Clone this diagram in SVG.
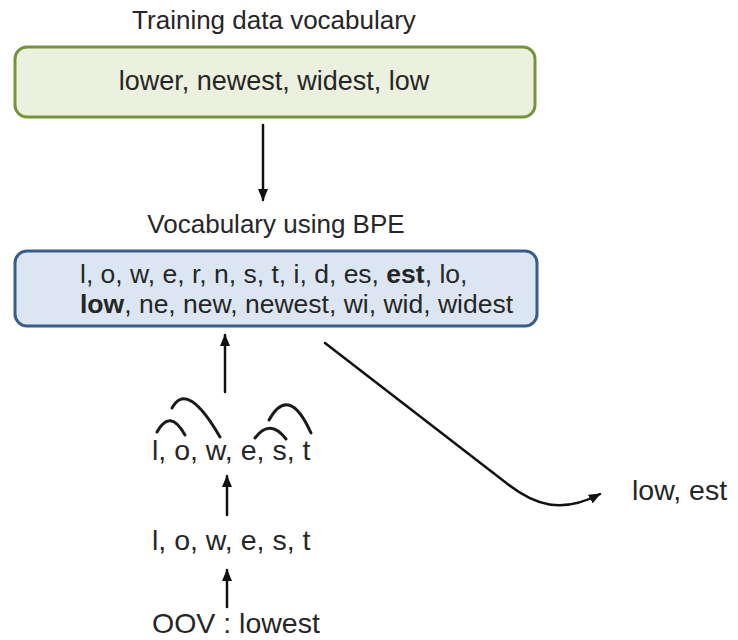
<svg xmlns="http://www.w3.org/2000/svg" width="738" height="640" viewBox="0 0 738 640">
<style>
text{font-family:"Liberation Sans",Arial,sans-serif;fill:#262626}
.t{font-size:26px}
.m{font-size:27px}
.v{font-size:26.5px}
.l{font-size:28.5px}
.b{font-weight:bold}
.c{fill:none;stroke:#111;stroke-width:2.5;stroke-linecap:round}
.arc{fill:none;stroke:#1a1a1a;stroke-width:3;stroke-linecap:round}
</style>
<defs>
<marker id="ah" markerUnits="userSpaceOnUse" markerWidth="12" markerHeight="12" refX="11" refY="6" orient="auto">
<path d="M0,1 L12,6 L0,11 Z" fill="#111"/>
</marker>
</defs>
<rect width="738" height="640" fill="#fff"/>
<g id="training">
<text class="t" x="274" y="29" text-anchor="middle">Training data vocabulary</text>
<rect x="15" y="47" width="520" height="70" rx="12" fill="#ebf1de" stroke="#77933c" stroke-width="3"/>
<text class="m" x="274" y="90" text-anchor="middle">lower, newest, widest, low</text>
</g>
<g id="bpe">
<text class="t" x="276" y="233" text-anchor="middle">Vocabulary using BPE</text>
<rect x="15" y="251" width="522" height="75" rx="12" fill="#dce6f2" stroke="#385d8a" stroke-width="3"/>
<text class="v" x="80" y="283">l, o, w, e, r, n, s, t, i, d, es, <tspan class="b">est</tspan>, lo,</text>
<text class="v" x="80" y="313"><tspan class="b">low</tspan>, ne, new, newest, wi, wid, widest</text>
</g>
<g id="merged">
<text class="l" x="152" y="460">l, o, w, e, s, t</text>
<path class="arc" d="M157,432 Q170,408 185,435"/>
<path class="arc" d="M172,408 Q187,380 220,437"/>
<path class="arc" d="M255,438 Q270,418 286,439"/>
<path class="arc" d="M269,420 Q289,384 311,433"/>
</g>
<g id="chars">
<text class="l" x="152" y="550">l, o, w, e, s, t</text>
</g>
<g id="oov">
<text class="l" x="152" y="633">OOV : lowest</text>
</g>
<g id="result">
<text class="l" x="632" y="500">low, est</text>
</g>
<g id="connectors">
<line class="c" x1="263" y1="125" x2="263" y2="200" marker-end="url(#ah)"/>
<line class="c" x1="225" y1="392" x2="225" y2="335" marker-end="url(#ah)"/>
<line class="c" x1="227" y1="515" x2="227" y2="476" marker-end="url(#ah)"/>
<line class="c" x1="227" y1="607" x2="227" y2="570" marker-end="url(#ah)"/>
<path class="c" d="M325,343 L505,482 C535,506 562,514 600,494" marker-end="url(#ah)"/>
</g>
</svg>
